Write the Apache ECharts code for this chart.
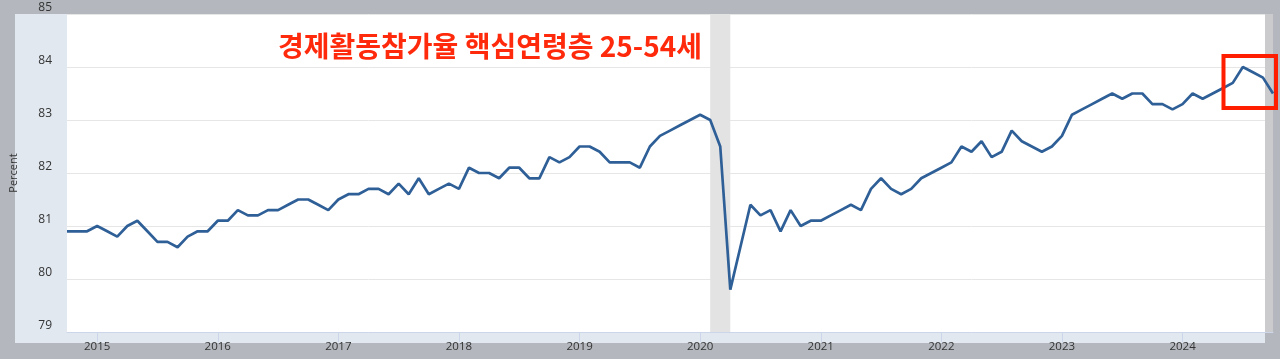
<!DOCTYPE html>
<html>
<head>
<meta charset="utf-8">
<script src="https://cdn.jsdelivr.net/npm/echarts@6/dist/echarts.min.js"></script>
<style>
  html, body { margin: 0; padding: 0; background: #b4b8be; }
  #chart { width: 1280px; height: 359px; }
</style>
</head>
<body>
<div id="chart"></div>
<script>
// Monthly values (percent), 25-54 labor force participation rate
const v2014 = [80.9, 80.9, 80.9]; // Oct–Dec
const v2015 = [81.0, 80.9, 80.8, 81.0, 81.1, 80.9, 80.7, 80.7, 80.6, 80.8, 80.9, 80.9];
const v2016 = [81.1, 81.1, 81.3, 81.2, 81.2, 81.3, 81.3, 81.4, 81.5, 81.5, 81.4, 81.3];
const v2017 = [81.5, 81.6, 81.6, 81.7, 81.7, 81.6, 81.8, 81.6, 81.9, 81.6, 81.7, 81.8];
const v2018 = [81.7, 82.1, 82.0, 82.0, 81.9, 82.1, 82.1, 81.9, 81.9, 82.3, 82.2, 82.3];
const v2019 = [82.5, 82.5, 82.4, 82.2, 82.2, 82.2, 82.1, 82.5, 82.7, 82.8, 82.9, 83.0];
const v2020 = [83.1, 83.0, 82.5, 79.8, 80.6, 81.4, 81.2, 81.3, 80.9, 81.3, 81.0, 81.1];
const v2021 = [81.1, 81.2, 81.3, 81.4, 81.3, 81.7, 81.9, 81.7, 81.6, 81.7, 81.9, 82.0];
const v2022 = [82.1, 82.2, 82.5, 82.4, 82.6, 82.3, 82.4, 82.8, 82.6, 82.5, 82.4, 82.5];
const v2023 = [82.7, 83.1, 83.2, 83.3, 83.4, 83.5, 83.4, 83.5, 83.5, 83.3, 83.3, 83.2];
const v2024 = [83.3, 83.5, 83.4, 83.5, 83.6, 83.7, 84.0, 83.9, 83.8, 83.5]; // Jan–Oct

const yearBlocks = [
  ['2014', 10, v2014], ['2015', 1, v2015], ['2016', 1, v2016], ['2017', 1, v2017],
  ['2018', 1, v2018], ['2019', 1, v2019], ['2020', 1, v2020], ['2021', 1, v2021],
  ['2022', 1, v2022], ['2023', 1, v2023], ['2024', 1, v2024]
];
const yTicks = [79, 80, 81, 82, 83, 84, 85];
const recession = ['2020-02', '2020-04'];
const titleText = '경제활동참가율 핵심연령층 25-54세';

const categories = [];
const values = [];
yearBlocks.forEach(([y, startM, arr]) => {
  arr.forEach((v, i) => {
    const m = startM + i;
    categories.push(y + '-' + (m < 10 ? '0' + m : '' + m));
    values.push(v);
  });
});
const isJan = (idx, val) => String(val).endsWith('-01');

const chart = echarts.init(document.getElementById('chart'), null, { renderer: 'canvas' });
chart.setOption({
  backgroundColor: '#b4b8be',
  animation: false,
  textStyle: { fontFamily: 'Open Sans, Noto Sans, sans-serif' },
  title: {
    text: titleText,
    left: 273, top: 27,
    textStyle: { color: '#ff2a0c', fontSize: 28, fontWeight: 'bold', fontFamily: 'Noto Sans CJK KR' }
  },
  graphic: [
    { type: 'rect', z: -5, shape: { x: 15, y: 14, width: 1250, height: 329 }, style: { fill: '#e1e8f0' } },
    { type: 'rect', z: 1, shape: { x: 1265, y: 14, width: 8, height: 318 }, style: { fill: '#cbcbcd' } },
    { type: 'rect', z: 100, shape: { x: 1223.5, y: 56, width: 52.5, height: 52 },
      style: { fill: 'none', stroke: '#ff1e00', lineWidth: 4 } }
  ],
  grid: { left: 67, right: 7, top: 14, bottom: 27, show: true, backgroundColor: '#ffffff', borderWidth: 0 },
  xAxis: {
    type: 'category',
    data: categories,
    boundaryGap: false,
    axisLine: { show: true, lineStyle: { color: '#ccd6eb', width: 1 } },
    axisTick: { show: true, interval: isJan, length: 10, lineStyle: { color: '#ccd6eb' } },
    axisLabel: { interval: isJan, formatter: v => v.slice(0, 4), color: '#333333', fontSize: 11.5, margin: 9 },
    splitLine: { show: false }
  },
  yAxis: {
    type: 'value',
    min: yTicks[0], max: yTicks[yTicks.length - 1], interval: 1,
    name: 'Percent', nameLocation: 'middle', nameRotate: 90, nameGap: 48,
    nameTextStyle: { color: '#333333', fontSize: 11 },
    axisLine: { show: false }, axisTick: { show: false },
    axisLabel: { color: '#333333', fontSize: 12, margin: 15, verticalAlign: 'bottom' },
    splitLine: { lineStyle: { color: '#e6e6e6', width: 1 } }
  },
  series: [{
    type: 'line',
    data: values,
    showSymbol: false,
    symbol: 'none',
    lineStyle: { color: '#2f5f97', width: 2.7 },
    z: 3,
    markArea: {
      silent: true,
      itemStyle: { color: '#e3e3e3' },
      data: [[{ xAxis: recession[0] }, { xAxis: recession[1] }]]
    }
  }]
});
</script>
</body>
</html>
